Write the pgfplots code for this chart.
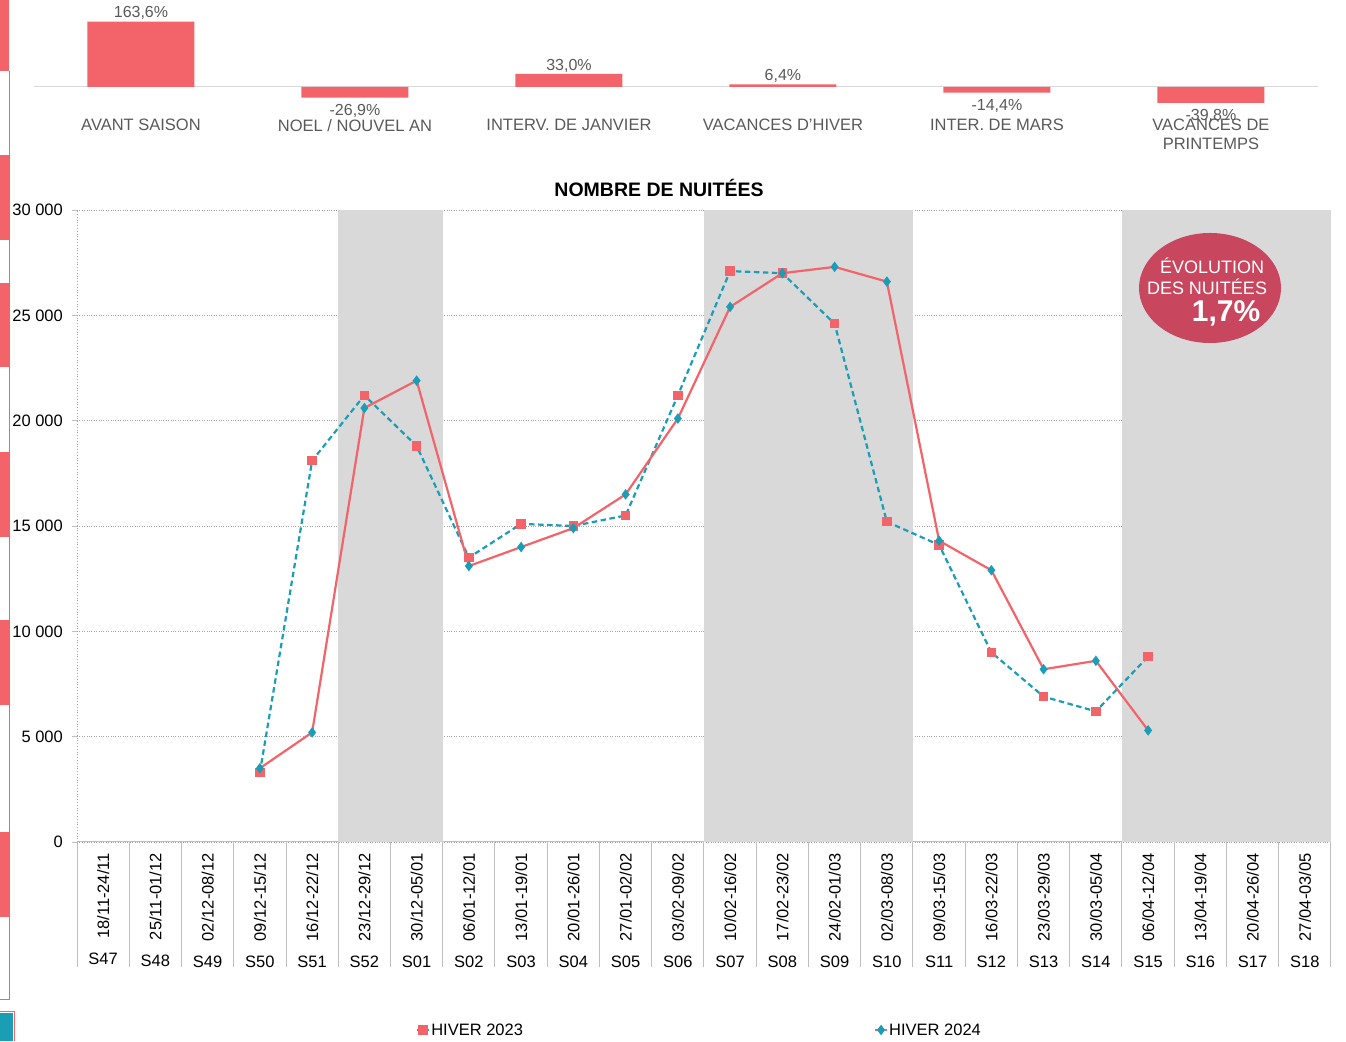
\documentclass[border=0pt]{standalone}
\usepackage{fontspec}
\setmainfont{Liberation Sans}
\usepackage{graphicx}
\usepackage{pgfplots}
\pgfplotsset{compat=1.18}
\definecolor{cred}{RGB}{243,99,106}
\definecolor{cteal}{RGB}{26,158,181}
\definecolor{band}{RGB}{217,217,217}
\definecolor{ell}{RGB}{200,71,95}
\definecolor{gridc}{RGB}{166,166,166}
\definecolor{sepc}{RGB}{191,191,191}
\definecolor{basec}{RGB}{217,217,217}
\definecolor{txtg}{RGB}{89,89,89}
\newcommand{\xl}[2]{\begin{tabular}{@{}c@{}}\rotatebox{90}{#1}\\[7pt]#2\end{tabular}}
\begin{document}
\begin{tikzpicture}[x=1pt,y=1pt]
\useasboundingbox (0,0) rectangle (1346,1041);
% left edge strip
\foreach \a/\b in {0/71,155/240,283/367,452/537,620/705,832/917}
  \fill[cred] (0,{1041-\a}) rectangle (9,{1041-\b});
\draw[cred, line width=1pt] (9.5,{1041-71}) -- (9.5,{1041-1000}) -- (0,{1041-1000});
\fill[cteal] (0,0) rectangle (13,28);
\draw[cred, line width=1pt] (14,0) -- (14,29.5) -- (0,29.5);

% ---------- top bar chart ----------
\begin{axis}[
  at={(34pt,922pt)}, anchor=south west,
  width=1284pt, height=99pt, scale only axis,
  xmin=-0.5, xmax=5.5, ymin=-80, ymax=167.5,
  axis line style={draw=none},
  ytick=\empty, xtick={0,...,5},
  xticklabels={AVANT SAISON,NOEL / NOUVEL AN,INTERV. DE JANVIER,VACANCES D'HIVER,INTER. DE MARS,{VACANCES DE\\PRINTEMPS}},
  xticklabel style={align=center, anchor=north, inner sep=0pt, font=\fontsize{16.5}{19}\selectfont, text=txtg},
  major tick length=0pt,
  extra y ticks={0}, extra y tick labels={},
  extra y tick style={grid=major, major grid style={draw=basec, line width=1pt}},
  clip=false,
]
\addplot[ybar, bar width=107pt, bar shift=0pt, fill=cred, draw=none,
  point meta=explicit symbolic, nodes near coords,
  every node near coord/.append style={font=\fontsize{16}{19}\selectfont, text=txtg, inner sep=1.5pt, anchor=south}]
  coordinates {(0,163.6)[163,6\%] (2,33.0)[33,0\%] (3,6.4)[6,4\%]};
\addplot[ybar, bar width=107pt, bar shift=0pt, fill=cred, draw=none,
  point meta=explicit symbolic, nodes near coords,
  every node near coord/.append style={font=\fontsize{16}{19}\selectfont, text=txtg, inner sep=1.5pt, anchor=north, yshift=-4.5pt}]
  coordinates {(1,-26.9)[-26,9\%] (4,-14.4)[-14,4\%] (5,-39.8)[-39,8\%]};
\end{axis}

% ---------- main line chart ----------
\begin{axis}[
  at={(77pt,199pt)}, anchor=south west,
  width=1254pt, height=632pt, scale only axis,
  xmin=-0.5, xmax=23.5, ymin=0, ymax=30000,
  axis x line*=bottom, axis y line*=left,
  x axis line style={draw=sepc, line width=1pt, -},
  y axis line style={draw=gridc, dotted, line width=0.8pt, -},
  tick align=outside,
  xtick={0,...,23},
  major x tick style={draw=none},
  minor xtick={-0.5,0.5,...,23.5},
  minor tick length=125pt,
  minor x tick style={draw=sepc, line width=1pt},
  xticklabels={{\xl{18/11-24/11}{S47}},{\xl{25/11-01/12}{S48}},{\xl{02/12-08/12}{S49}},{\xl{09/12-15/12}{S50}},{\xl{16/12-22/12}{S51}},{\xl{23/12-29/12}{S52}},{\xl{30/12-05/01}{S01}},{\xl{06/01-12/01}{S02}},{\xl{13/01-19/01}{S03}},{\xl{20/01-26/01}{S04}},{\xl{27/01-02/02}{S05}},{\xl{03/02-09/02}{S06}},{\xl{10/02-16/02}{S07}},{\xl{17/02-23/02}{S08}},{\xl{24/02-01/03}{S09}},{\xl{02/03-08/03}{S10}},{\xl{09/03-15/03}{S11}},{\xl{16/03-22/03}{S12}},{\xl{23/03-29/03}{S13}},{\xl{30/03-05/04}{S14}},{\xl{06/04-12/04}{S15}},{\xl{13/04-19/04}{S16}},{\xl{20/04-26/04}{S17}},{\xl{27/04-03/05}{S18}}},
  xticklabel style={anchor=north, inner sep=0pt, yshift=-6pt, font=\fontsize{16.5}{19}\selectfont, text=black},
  ytick={0,5000,...,30000},
  major tick length=5pt,
  ytick style={draw=sepc, line width=0.8pt},
  ymajorgrids, major grid style={draw=gridc, dotted, line width=0.8pt},
  scaled y ticks=false,
  /pgf/number format/.cd, 1000 sep={\ }, assume math mode=true,
  /pgfplots/.cd,
  yticklabel style={anchor=east, inner sep=0pt, xshift=-9pt, font=\fontsize{16.5}{19}\selectfont, text=black},
  legend columns=2,
  legend style={at={(0.496,-0.2975)}, anchor=center, draw=none, fill=none,
    font=\fontsize{16.5}{19}\selectfont, inner sep=0pt,
    nodes={inner sep=1pt},
    /tikz/every even column/.append style={column sep=350pt}},
  legend image code/.code={\draw[mark repeat=2,mark phase=2,#1,solid] plot coordinates {(0pt,0pt)(6pt,0pt)(12pt,0pt)};},
  clip=false,
]
\addplot[fill=band, draw=none, forget plot] coordinates {(4.5,0) (6.5,0) (6.5,30000) (4.5,30000)} -- cycle;
\addplot[fill=band, draw=none, forget plot] coordinates {(11.5,0) (15.5,0) (15.5,30000) (11.5,30000)} -- cycle;
\addplot[fill=band, draw=none, forget plot] coordinates {(19.5,0) (23.5,0) (23.5,30000) (19.5,30000)} -- cycle;

\addplot[cteal, line width=2.2pt, dash pattern=on 5.5pt off 3.5pt, mark=square*, mark size=3.6pt,
  mark options={solid, fill=cred, draw=cred}]
  coordinates {(3,3300)(4,18100)(5,21200)(6,18800)(7,13500)(8,15100)(9,15000)(10,15500)(11,21200)(12,27100)(13,27000)(14,24600)(15,15200)(16,14100)(17,9000)(18,6900)(19,6200)(20,8800)};
\addlegendentry{HIVER 2023}
\addplot[cred, line width=2.2pt, mark=diamond*, mark size=3.5pt,
  mark options={solid, fill=cteal, draw=cteal}]
  coordinates {(3,3500)(4,5200)(5,20600)(6,21900)(7,13100)(8,14000)(9,14900)(10,16500)(11,20100)(12,25400)(13,27000)(14,27300)(15,26600)(16,14300)(17,12900)(18,8200)(19,8600)(20,5300)};
\addlegendentry{HIVER 2024}
\end{axis}

\node[font=\bfseries\fontsize{19.5}{22}\selectfont] at (659,853) {NOMBRE DE NUITÉES};

\fill[ell] (1210,753) ellipse (71 and 55);
\node[text=white, font=\fontsize{18}{20}\selectfont] at (1212,775) {ÉVOLUTION};
\node[text=white, font=\fontsize{18}{20}\selectfont] at (1207,754) {DES NUITÉES};
\node[text=white, font=\bfseries\fontsize{30}{34}\selectfont, inner sep=0pt] at (1226,728) {1,7\%};
\end{tikzpicture}
\end{document}
